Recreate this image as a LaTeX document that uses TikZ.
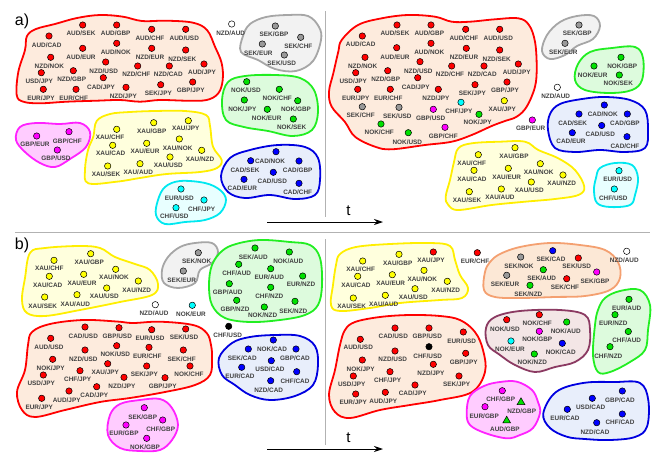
\documentclass[tikz,border=0pt]{standalone}
\usepackage{fontspec}
\setmainfont{Liberation Sans}
\usetikzlibrary{calc,arrows.meta,shapes.geometric}
\definecolor{cr}{HTML}{FF0000}
\definecolor{cg}{HTML}{00E000}
\definecolor{cgr}{HTML}{999999}
\definecolor{cm}{HTML}{FF00FF}
\definecolor{cy}{HTML}{FFFF00}
\definecolor{cb}{HTML}{0000FF}
\definecolor{cc}{HTML}{00FFFF}
\definecolor{fr}{HTML}{FDEBDD}
\definecolor{fgr}{HTML}{F2F2F2}
\definecolor{fg}{HTML}{DDFBDD}
\definecolor{fm}{HTML}{FFCCFF}
\definecolor{fy}{HTML}{FFFFDD}
\definecolor{fb}{HTML}{E8EEFB}
\definecolor{fc}{HTML}{E8FFFF}
\definecolor{fo}{HTML}{FCE8D6}
\definecolor{fp}{HTML}{F3E6E6}
\definecolor{lr}{HTML}{FF0000}
\definecolor{lgr}{HTML}{A6A6A6}
\definecolor{lg}{HTML}{22EE22}
\definecolor{lm}{HTML}{FF22FF}
\definecolor{ly}{HTML}{FFEE00}
\definecolor{lb}{HTML}{0000E0}
\definecolor{lc}{HTML}{00E8F0}
\definecolor{lo}{HTML}{F4A070}
\definecolor{lp}{HTML}{8B3A62}
\definecolor{txt}{HTML}{404040}
\tikzset{
  pt/.style={circle,draw=black,line width=0.5pt,minimum size=6.4pt,inner sep=0pt},
  tri/.style={regular polygon,regular polygon sides=3,draw=black,line width=0.5pt,fill=cg,minimum size=9pt,inner sep=0pt},
  lab/.style={font=\fontsize{6.4}{7}\selectfont\bfseries,text=txt,inner sep=0pt,text height=4.6pt,text depth=0pt},
  blob/.style args={#1/#2}{draw=#1,fill=#2,line width=1.8pt,line join=round},
  sep/.style={draw=black!30,line width=0.9pt},
  tarrow/.style={-{Stealth[length=9pt,width=6pt]},line width=0.9pt},
  big/.style={font=\fontsize{16}{18}\selectfont,inner sep=0pt}
}
\newcommand\pr[7]{\node[pt,fill=#4] (#1) at (#2,#3) {}; \node[lab] (#1t) at (#6,#7) {#5};}
\newcommand\trp[6]{\node[tri] (#1) at (#2,#3) {}; \node[lab] (#1t) at (#5,#6) {#4};}
\begin{document}
\begin{tikzpicture}[x=1pt,y=-1pt]
\useasboundingbox (0,0) rectangle (654,453);
% separators
\coordinate (h1) at (15,232.5); \coordinate (h2) at (650,232.5);
\draw[sep] (h1) -- (h2);
\coordinate (v1) at (325,11); \coordinate (v2) at (325,217);
\coordinate (v3) at (325,239); \coordinate (v4) at (325,445);
\draw[sep] (v1) -- (v2); \draw[sep] (v3) -- (v4);
\node[big] (la) at (22,21) {a)};
\node[big] (lbb) at (22,245) {b)};
% time arrows
\coordinate (ta1) at (267,222); \coordinate (ta2) at (383,222);
\draw[tarrow] (ta1) -- (ta2);
\node[font=\fontsize{15}{17}\selectfont,inner sep=0pt] (tt1) at (348.5,211) {t};
\coordinate (tb1) at (267,449); \coordinate (tb2) at (383,449);
\draw[tarrow] (tb1) -- (tb2);
\node[font=\fontsize{15}{17}\selectfont,inner sep=0pt] (tt2) at (348.5,438) {t};

%%%%%%%%%%%%%%%% BLOBS a) left
\draw[blob=lr/fr] plot[smooth cycle,tension=0.6] coordinates {(16.7,95) (18.3,72) (25,50) (27,36) (36,29) (55,24) (77,18) (100,15) (123,16.7) (142,21) (167,20.7) (193,22.7) (207,30) (215,46.7) (221.7,63.3) (222.7,80) (218.3,93.3) (206.7,100) (186.7,100.7) (160,100) (140,101.7) (120,100) (96.7,100.7) (66.7,101.7) (40,103.3) (23.3,101.7)};
\draw[blob=lgr/fgr] plot[smooth cycle,tension=0.6] coordinates {(250,24) (266,17) (288,15) (308,16) (319,27) (321,40) (313,61) (296,71) (275,69) (258,60) (241,52) (243,36)};
\draw[blob=lg/fg] plot[smooth cycle,tension=0.6] coordinates {(228,82) (245,76) (275,75) (300,78) (314,90) (318,112) (312,130) (293,136) (268,131) (244,127) (226,120) (222,100)};
\draw[blob=lm/fm] plot[smooth cycle,tension=0.6] coordinates {(20,127) (36,123) (60,124) (80,123) (90,132) (86,147) (70,159) (55,167) (40,163) (25,152) (16,140)};
\draw[blob=ly/fy] plot[smooth cycle,tension=0.6] coordinates {(93.3,136.7) (96.7,121) (110,114) (130,112) (155,111) (185,111) (206,115) (210,126) (213,146.7) (221.7,160) (217,168) (200,172) (166.7,174) (140,178) (116.7,181.7) (88.3,183.3) (85,170) (88,150)};
\draw[blob=lb/fb] plot[smooth cycle,tension=0.6] coordinates {(230,158) (250,150) (278,145) (305,147) (318,158) (320,180) (315,195) (295,199) (270,195) (245,198) (228,192) (221,176)};
\draw[blob=lc/fc] plot[smooth cycle,tension=0.6] coordinates {(165,187) (180,181) (205,183) (220,190) (226,200) (220,213) (205,220) (185,222) (165,224) (156,215) (158,200)};
%%%%%%%%%%%%%%%% BLOBS a) right
\draw[blob=lr/fr] plot[smooth cycle,tension=0.6] coordinates {(341.7,40) (358,25) (381.7,18.3) (408.3,15) (435,16.7) (451.7,21.7) (470,21.7) (495,19.3) (518.3,18.3) (529,25) (535,41.7) (536.7,66.7) (535,86.7) (526.7,106.7) (516.7,116.7) (505,121) (491.7,126) (471.7,135) (451.7,141.7) (425,145) (391.7,149.3) (375,146.7) (355,136.7) (345,122) (331.7,106.7) (329,91.7) (333.3,73.3) (338.3,51.7)};
\draw[blob=lgr/fgr] plot[smooth cycle,tension=0.6] coordinates {(560,22) (577,16) (594,16) (600,26) (593,39) (577,46) (565,55) (550,59) (542,51) (547,35)};
\draw[blob=lg/fg] plot[smooth cycle,tension=0.6] coordinates {(590,52) (612,48) (635,47) (643,58) (642,80) (632,90) (610,93) (585,90) (575,80) (578,64)};
\draw[blob=lb/fb] plot[smooth cycle,tension=0.6] coordinates {(560,104) (582,99) (605,97) (630,100) (645,110) (648,130) (645,148) (625,152) (600,150) (575,152) (555,148) (548,130) (550,114)};
\draw[blob=ly/fy] plot[smooth cycle,tension=0.6] coordinates {(458.3,148.3) (471.7,143.3) (500,141.7) (525,141.7) (538.3,150) (558.3,158.3) (575,170) (584.3,186.7) (578.3,195) (555,199) (525,201.7) (491.7,205) (458.3,210) (448.3,205) (445.7,196.7) (450,180) (454,162)};
\draw[blob=lc/fc] plot[smooth cycle,tension=0.6] coordinates {(600,168) (615,163) (632,165) (638,178) (635,195) (630,205) (610,207) (597,203) (594,190) (596,178)};
%%%%%%%%%%%%%%%% BLOBS b) left
\draw[blob=ly/fy] plot[smooth cycle,tension=0.6] coordinates {(30,253) (45,248) (80,246) (100,248) (115,257) (135,264) (150,270) (158,284) (152,295) (120,302) (80,310) (45,316) (27,313) (22,300) (25,278)};
\draw[blob=lgr/fgr] plot[smooth cycle,tension=0.6] coordinates {(180,247) (195,243) (212,243) (218,252) (212,263) (200,270) (195,283) (178,288) (164,283) (162,270) (168,257)};
\draw[blob=lg/fg] plot[smooth cycle,tension=0.6] coordinates {(222,251) (236,244) (260,240) (290,242) (310,245) (320,258) (322,285) (318,305) (305,315) (280,320) (250,322) (225,318) (212,305) (209,285) (212,265)};
\draw[blob=lr/fr] plot[smooth cycle,tension=0.6] coordinates {(50,324) (83,320) (116.7,321.5) (133,323) (160,321.7) (193,325) (206.7,333) (211,345) (212,358) (210,375) (195,385) (165,392) (130,398) (100,402) (65,410) (35,417) (22,410) (17,392) (25,370) (28,345) (32,332)};
\draw[blob=lb/fb] plot[smooth cycle,tension=0.6] coordinates {(232,343) (250,337) (275,335) (300,336) (315,346) (318,365) (313,385) (295,396) (270,400) (250,395) (235,385) (222,375) (219,358)};
\draw[blob=lm/fm] plot[smooth cycle,tension=0.6] coordinates {(120,404) (140,400) (160,399) (172,408) (178,425) (172,440) (160,450) (140,451) (120,448) (108,435) (110,415)};
%%%%%%%%%%%%%%%% BLOBS b) right
\draw[blob=ly/fy] plot[smooth cycle,tension=0.6] coordinates {(340,254) (356,247) (390,244) (430,243) (450,246) (455,260) (460,275) (468,288) (462,298) (440,300) (400,303) (370,308) (340,311) (331,305) (333,285) (336,265)};
\draw[blob=lo/fo] plot[smooth cycle,tension=0.6] coordinates {(500,254) (520,247) (550,243) (580,245) (605,250) (618,262) (620,278) (610,290) (585,296) (555,297) (520,298) (495,297) (484,290) (485,272) (490,262)};
\draw[blob=lp/fp] plot[smooth cycle,tension=0.6] coordinates {(495,317) (520,311) (560,310) (585,315) (590,330) (588,350) (575,362) (555,367) (535,372) (515,365) (500,355) (488,345) (486,328)};
\draw[blob=lg/fg] plot[smooth cycle,tension=0.6] coordinates {(605,298) (620,291) (640,290) (650,305) (648,330) (645,350) (630,362) (610,372) (598,372) (593,355) (595,325) (598,310)};
\draw[blob=lr/fr] plot[smooth cycle,tension=0.6] coordinates {(355,322) (380,317) (410,315) (440,316) (460,320) (475,332) (483,350) (485,372) (472,392) (440,400) (410,405) (380,410) (350,418) (335,412) (329,395) (335,370) (340,345) (345,330)};
\draw[blob=lm/fm] plot[smooth cycle,tension=0.6] coordinates {(484,386) (500,382) (517,381.7) (532,390) (538,402) (540,413) (533,428) (520,435) (506.7,438.3) (485,433) (470,425) (466.7,413.3) (470,396)};
\draw[blob=lb/fb] plot[smooth cycle,tension=0.6] coordinates {(556,392) (583,383) (615,382) (640,383) (648.3,400) (647,426.7) (635,437) (610,440) (585,439) (566.7,436.7) (550,428) (543.3,413.3)};

%%%%%%%%%%%%%%%% POINTS a) left
\pr{a1}{82.7}{25}{cr}{AUD/SEK}{81}{33.3}
\pr{a2}{116.7}{25}{cr}{AUD/GBP}{115.7}{33.3}
\pr{a3}{151.7}{29.3}{cr}{AUD/CHF}{150}{38.3}
\pr{a4}{185.7}{29.3}{cr}{AUD/USD}{184.3}{38.3}
\pr{a5}{49}{36}{cr}{AUD/CAD}{46.7}{45}
\pr{a6}{82.7}{48.3}{cr}{AUD/EUR}{81}{56.7}
\pr{a7}{116.7}{43.3}{cr}{AUD/NOK}{115.7}{51.7}
\pr{a8}{151.7}{48.3}{cr}{NZD/EUR}{150}{56.7}
\pr{a9}{185.7}{50}{cr}{NZD/SEK}{182.3}{59}
\pr{a10}{50.7}{57.3}{cr}{NZD/NOK}{49.3}{65.7}
\pr{a11}{105.7}{62}{cr}{NZD/USD}{103.7}{70.7}
\pr{a12}{137.7}{66}{cr}{NZD/CHF}{136.3}{74}
\pr{a13}{169.3}{66}{cr}{NZD/CAD}{168.3}{74}
\pr{a14}{204}{64}{cr}{AUD/JPY}{202}{72.3}
\pr{a15}{41.3}{72.7}{cr}{USD/JPY}{39.3}{80.7}
\pr{a16}{73.3}{70.7}{cr}{NZD/GBP}{71.7}{79.3}
\pr{a17}{103.3}{77.7}{cr}{CAD/JPY}{101}{86.7}
\pr{a18}{126}{87.3}{cr}{NZD/JPY}{123.3}{95.7}
\pr{a19}{160.7}{84.7}{cr}{SEK/JPY}{158.3}{93.3}
\pr{a20}{192.7}{82}{cr}{GBP/JPY}{190.7}{90}
\pr{a21}{43.3}{89.3}{cr}{EUR/JPY}{41}{97.7}
\pr{a22}{76}{89.3}{cr}{EUR/CHF}{73.7}{97.7}
\pr{a23}{231.7}{24}{white}{NZD/AUD}{230.7}{32.7}
\pr{a24}{275.3}{26}{cgr}{SEK/GBP}{274}{34}
\pr{a25}{300.7}{37.3}{cgr}{SEK/CHF}{298.3}{45.7}
\pr{a26}{262.3}{44}{cgr}{SEK/EUR}{258.3}{52.7}
\pr{a27}{284.3}{55}{cgr}{SEK/USD}{281.7}{63.3}
\pr{a28}{246.7}{81.7}{cg}{NOK/USD}{246}{90}
\pr{a29}{279.3}{89.3}{cg}{NOK/CHF}{277.3}{97.7}
\pr{a30}{297.7}{100.7}{cg}{NOK/GBP}{296}{109.3}
\pr{a31}{244.3}{100}{cg}{NOK/JPY}{242.3}{109.3}
\pr{a32}{267.3}{109.3}{cg}{NOK/EUR}{266.7}{118.3}
\pr{a33}{293.3}{119}{cg}{NOK/SEK}{291.7}{127.3}
\pr{a34}{36.7}{136}{cm}{GBP/EUR}{35}{144.3}
\pr{a35}{69}{131.7}{cm}{GBP/CHF}{67.3}{140.7}
\pr{a36}{57.3}{150}{cm}{GBP/USD}{56}{158.3}
\pr{a37}{116.7}{129.3}{cy}{XAU/CHF}{110}{137.3}
\pr{a38}{153.7}{122.7}{cy}{XAU/GBP}{151.7}{130.7}
\pr{a39}{188.3}{120.7}{cy}{XAU/JPY}{185.7}{128.3}
\pr{a40}{112.7}{145.3}{cy}{XAU/CAD}{110.7}{153.3}
\pr{a41}{146.7}{143.3}{cy}{XAU/EUR}{145}{151.3}
\pr{a42}{179.3}{139}{cy}{XAU/NOK}{177.7}{147.7}
\pr{a43}{201.7}{150.3}{cy}{XAU/NZD}{200}{158.7}
\pr{a44}{170}{157}{cy}{XAU/USD}{168.3}{165}
\pr{a45}{107.7}{166}{cy}{XAU/SEK}{106}{174.3}
\pr{a46}{140}{163.7}{cy}{XAU/AUD}{138.3}{172}
\pr{a47}{276}{151.7}{cb}{CAD/NOK}{270}{160.7}
\pr{a48}{250.7}{160.7}{cb}{CAD/SEK}{245}{170}
\pr{a49}{299}{161}{cb}{CAD/GBP}{297.7}{170}
\pr{a50}{273.3}{172.3}{cb}{CAD/USD}{272.3}{180.7}
\pr{a51}{244}{179.3}{cb}{CAD/EUR}{242.3}{187.7}
\pr{a52}{299}{183.3}{cb}{CAD/CHF}{297.7}{192}
\pr{a53}{181}{189}{cc}{EUR/USD}{179.3}{197.7}
\pr{a54}{204}{200}{cc}{CHF/JPY}{201.7}{208.7}
\pr{a55}{176}{207.7}{cc}{CHF/USD}{174.3}{216}

%%%%%%%%%%%%%%%% POINTS a) right
\pr{b1}{397}{25}{cr}{AUD/SEK}{395}{33.3}
\pr{b2}{431}{25}{cr}{AUD/GBP}{429.3}{33.3}
\pr{b3}{465.7}{29.3}{cr}{AUD/CHF}{464}{38.3}
\pr{b4}{499.7}{29.3}{cr}{AUD/USD}{498.3}{38.3}
\pr{b5}{362.3}{36}{cr}{AUD/CAD}{360.7}{44.3}
\pr{b6}{396.7}{47.7}{cr}{AUD/EUR}{395}{56.7}
\pr{b7}{431}{43.3}{cr}{AUD/NOK}{429.3}{51.7}
\pr{b8}{466.3}{48.3}{cr}{NZD/EUR}{464}{56.7}
\pr{b9}{499.7}{50}{cr}{NZD/SEK}{496.7}{59}
\pr{b10}{365}{57.3}{cr}{NZD/NOK}{362.7}{65.7}
\pr{b11}{420}{61.7}{cr}{NZD/USD}{418.3}{70.7}
\pr{b12}{451.7}{66}{cr}{NZD/CHF}{450}{74}
\pr{b13}{484}{66}{cr}{NZD/CAD}{482.3}{74}
\pr{b14}{518.3}{64}{cr}{AUD/JPY}{516.7}{72.3}
\pr{b15}{355.7}{72.7}{cr}{USD/JPY}{353.3}{80.7}
\pr{b16}{387.7}{70.7}{cr}{NZD/GBP}{385.7}{79.3}
\pr{b17}{417.7}{77.7}{cr}{CAD/JPY}{415.7}{86.7}
\pr{b18}{438.3}{89.3}{cr}{NZD/JPY}{436}{97.7}
\pr{b19}{475}{84.7}{cr}{SEK/JPY}{472.3}{93.3}
\pr{b20}{507}{82}{cr}{GBP/JPY}{505}{90}
\pr{b21}{357.7}{89.3}{cr}{EUR/JPY}{355.7}{97.7}
\pr{b22}{390.3}{89.3}{cr}{EUR/CHF}{388.3}{97.7}
\pr{b23}{362.3}{106.7}{cgr}{SEK/CHF}{360.7}{115}
\pr{b24}{399}{107.3}{cgr}{SEK/USD}{397.3}{115.7}
\pr{b25}{433.3}{109.3}{cm}{GBP/USD}{430.7}{118.3}
\pr{b26}{461}{102.3}{cc}{CHF/JPY}{459}{110.7}
\pr{b27}{504.3}{100.7}{cy}{XAU/JPY}{502.3}{109}
\pr{b28}{479}{114.3}{cg}{NOK/JPY}{477.7}{121.7}
\pr{b29}{381}{124}{cg}{NOK/CHF}{379.3}{132.3}
\pr{b30}{408.3}{132.7}{cg}{NOK/USD}{407.3}{141.7}
\pr{b31}{445}{127.3}{cm}{GBP/CHF}{443.3}{135.7}
\pr{b32}{579}{25}{cgr}{SEK/GBP}{577.3}{33.3}
\pr{b33}{565}{43.3}{cgr}{SEK/EUR}{563.3}{52.3}
\pr{b34}{621}{57.3}{cg}{NOK/GBP}{622.3}{66}
\pr{b35}{594}{66}{cg}{NOK/EUR}{592.7}{74.7}
\pr{b36}{619.3}{75}{cg}{NOK/SEK}{618.3}{83.3}
\pr{b37}{557.3}{87.3}{white}{NZD/AUD}{555.7}{95.7}
\pr{b38}{532.3}{120}{cm}{GBP/EUR}{530.7}{127.7}
\pr{b39}{604.3}{105}{cb}{CAD/NOK}{602.7}{114}
\pr{b40}{579}{114}{cb}{CAD/SEK}{572.7}{122.7}
\pr{b41}{627.3}{114}{cb}{CAD/GBP}{625}{122.7}
\pr{b42}{601.7}{125.5}{cb}{CAD/USD}{600.3}{134}
\pr{b43}{572.3}{132.7}{cb}{CAD/EUR}{571}{140.7}
\pr{b44}{627}{136.7}{cb}{CAD/CHF}{625}{145.7}
\pr{b45}{478.3}{154.7}{cy}{XAU/CHF}{471.7}{162.7}
\pr{b46}{515}{147.7}{cy}{XAU/GBP}{514}{156}
\pr{b47}{474}{170.3}{cy}{XAU/CAD}{472}{178.7}
\pr{b48}{508.3}{168.3}{cy}{XAU/EUR}{506.7}{176.7}
\pr{b49}{540.3}{163.7}{cy}{XAU/NOK}{538.7}{172.3}
\pr{b50}{563}{175}{cy}{XAU/NZD}{561.7}{183.3}
\pr{b51}{531.3}{182}{cy}{XAU/USD}{529.3}{190.3}
\pr{b52}{469.3}{191.7}{cy}{XAU/SEK}{467}{200.3}
\pr{b53}{501.3}{189}{cy}{XAU/AUD}{500}{197.3}
\pr{b54}{619}{170.7}{cc}{EUR/USD}{617.7}{179.3}
\pr{b55}{614.3}{189}{cc}{CHF/USD}{613.3}{197.7}

%%%%%%%%%%%%%%%% POINTS b) left
\pr{c1}{54}{260.3}{cy}{XAU/CHF}{49.3}{268}
\pr{c2}{90.7}{253.7}{cy}{XAU/GBP}{89.3}{262}
\pr{c3}{49.3}{276.3}{cy}{XAU/CAD}{47.7}{284.7}
\pr{c4}{83.7}{274.3}{cy}{XAU/EUR}{82}{282.7}
\pr{c5}{115.7}{269.3}{cy}{XAU/NOK}{114}{277.3}
\pr{c6}{138.3}{281}{cy}{XAU/NZD}{136.7}{289.7}
\pr{c7}{106.7}{288}{cy}{XAU/USD}{104.3}{296.3}
\pr{c8}{44.7}{297}{cy}{XAU/SEK}{42.7}{306}
\pr{c9}{77}{294.7}{cy}{XAU/AUD}{75.3}{303.7}
\pr{c10}{198.3}{252.7}{cgr}{SEK/NOK}{196.7}{261}
\pr{c11}{183.3}{271}{cgr}{SEK/EUR}{181.7}{279.7}
\pr{c12}{155.3}{304.7}{white}{NZD/AUD}{154}{313.3}
\pr{c13}{192.3}{305.3}{cc}{NOK/EUR}{191}{314}
\pr{c14}{228.7}{326.3}{black}{CHF/USD}{227.7}{335.3}
\pr{c15}{255}{248}{cg}{SEK/AUD}{253.3}{257}
\pr{c16}{289.3}{252}{cg}{NOK/AUD}{288.3}{260.7}
\pr{c17}{238.7}{264.3}{cg}{CHF/AUD}{236.7}{272.7}
\pr{c18}{270.7}{268.7}{cg}{EUR/AUD}{269.3}{277}
\pr{c19}{302.7}{276}{cg}{EUR/NZD}{301}{284.3}
\pr{c20}{229.3}{283.7}{cg}{GBP/AUD}{227.7}{292}
\pr{c21}{270.7}{287.3}{cg}{CHF/NZD}{269.3}{296.3}
\pr{c22}{236.7}{300.3}{cg}{GBP/NZD}{235}{308.7}
\pr{c23}{264.3}{307}{cg}{NOK/NZD}{262.7}{315.3}
\pr{c24}{295}{301.3}{cg}{SEK/NZD}{293.3}{311}
\pr{c25}{85}{327}{cr}{CAD/USD}{83.3}{336}
\pr{c26}{119}{327.7}{cr}{GBP/USD}{117.3}{336}
\pr{c27}{151.7}{329.7}{cr}{EUR/USD}{150}{338}
\pr{c28}{185.7}{329}{cr}{SEK/USD}{184}{337.3}
\pr{c29}{50.7}{338.3}{cr}{AUD/USD}{49}{346.7}
\pr{c30}{85}{350}{cr}{NZD/USD}{83.3}{358.7}
\pr{c31}{116.7}{345.7}{cr}{NOK/USD}{115.3}{354}
\pr{c32}{149}{347.3}{cr}{EUR/CHF}{147.3}{355.7}
\pr{c33}{183.3}{350}{cr}{SEK/CHF}{181.7}{358.7}
\pr{c34}{52.7}{359.3}{cr}{NOK/JPY}{50.7}{367.7}
\pr{c35}{107.7}{363.7}{cr}{XAU/JPY}{105.3}{372.3}
\pr{c36}{146.7}{366}{cr}{SEK/JPY}{144.3}{374.3}
\pr{c37}{190}{366}{cr}{NOK/CHF}{189}{374.3}
\pr{c38}{43.3}{375}{cr}{USD/JPY}{41.3}{383.3}
\pr{c39}{80}{370.7}{cr}{CHF/JPY}{77.7}{379}
\pr{c40}{124}{377.3}{cr}{NZD/JPY}{122}{385.7}
\pr{c41}{165}{377.7}{cr}{GBP/JPY}{162.7}{385.7}
\pr{c42}{96.7}{386.7}{cr}{CAD/JPY}{94.3}{395}
\pr{c43}{69}{391}{cr}{AUD/JPY}{66.7}{399.7}
\pr{c44}{41.7}{398.3}{cr}{EUR/JPY}{39.3}{406.7}
\pr{c45}{273.3}{340}{cb}{NOK/CAD}{272}{349}
\pr{c46}{248.3}{349}{cb}{SEK/CAD}{242.3}{357.7}
\pr{c47}{296}{349}{cb}{GBP/CAD}{295}{357.7}
\pr{c48}{271.3}{360.7}{cb}{USD/CAD}{270}{369}
\pr{c49}{241.7}{367.3}{cb}{EUR/CAD}{240}{375.7}
\pr{c50}{296.7}{371.7}{cb}{CHF/CAD}{295}{380.7}
\pr{c51}{270.7}{380.7}{cb}{NZD/CAD}{268.7}{390}
\pr{c52}{144.3}{407.7}{cm}{SEK/GBP}{142.7}{416.7}
\pr{c53}{162.7}{420}{cm}{CHF/GBP}{160.7}{428.7}
\pr{c54}{126}{425}{cm}{EUR/GBP}{124}{433.3}
\pr{c55}{146.7}{438.3}{cm}{NOK/GBP}{145}{447.3}

%%%%%%%%%%%%%%%% POINTS b) right
\pr{d1}{362.7}{261}{cy}{XAU/CHF}{360.7}{269.3}
\pr{d2}{399}{254.3}{cy}{XAU/GBP}{397.7}{262.7}
\pr{d3}{433.3}{252}{cr}{XAU/JPY}{431}{260.3}
\pr{d4}{357.7}{276.3}{cy}{XAU/CAD}{356}{285.3}
\pr{d5}{392.3}{274.7}{cy}{XAU/EUR}{390.7}{283}
\pr{d6}{424}{270.3}{cy}{XAU/NOK}{422.3}{278.7}
\pr{d7}{447.3}{281.3}{cy}{XAU/NZD}{445.7}{290.3}
\pr{d8}{415}{288.7}{cy}{XAU/USD}{413.3}{297}
\pr{d9}{353.3}{298}{cy}{XAU/SEK}{351.7}{306}
\pr{d10}{385.3}{295.3}{cy}{XAU/AUD}{383.7}{304}
\pr{d11}{477.3}{252.7}{cr}{EUR/CHF}{475}{260.7}
\pr{d12}{626.7}{251.3}{white}{NZD/AUD}{624.3}{260}
\pr{d13}{520.7}{257}{cgr}{SEK/NOK}{519}{266}
\pr{d14}{552.7}{250.7}{cb}{SEK/CAD}{551}{259.3}
\pr{d15}{578.3}{258}{cr}{SEK/USD}{576.7}{266.3}
\pr{d16}{543.3}{269.7}{cg}{SEK/AUD}{541.7}{278}
\pr{d17}{596.7}{272}{cm}{SEK/GBP}{595}{280.7}
\pr{d18}{506.7}{275.3}{cgr}{SEK/EUR}{505}{284.3}
\pr{d19}{566.7}{278.7}{cr}{SEK/CHF}{565}{287.3}
\pr{d20}{530}{285.3}{cg}{SEK/NZD}{528.3}{293.7}
\pr{d21}{506.7}{319.7}{cr}{NOK/USD}{505}{328.7}
\pr{d22}{539.3}{314.7}{cr}{NOK/CHF}{537.3}{323}
\pr{d23}{566.7}{322}{cg}{NOK/AUD}{565.7}{331}
\pr{d24}{539.3}{331.3}{cm}{NOK/GBP}{537.3}{339.3}
\pr{d25}{511}{341}{cc}{NOK/EUR}{510}{349.3}
\pr{d26}{562.3}{343.3}{cb}{NOK/CAD}{560.7}{351.7}
\pr{d27}{534.3}{354}{cg}{NOK/NZD}{532.3}{362.3}
\pr{d28}{629}{299.3}{cg}{EUR/AUD}{626.7}{307.7}
\pr{d29}{615}{314.7}{cg}{EUR/NZD}{613.3}{323}
\pr{d30}{628.3}{331.5}{cg}{CHF/AUD}{626.7}{340}
\pr{d31}{610}{346.7}{cg}{CHF/NZD}{608.3}{355.7}
\pr{d32}{395}{328}{cr}{CAD/USD}{393.3}{336.3}
\pr{d33}{429}{328}{cr}{GBP/USD}{427.3}{336.3}
\pr{d34}{463.3}{332}{cr}{EUR/USD}{461.7}{340.7}
\pr{d35}{360.3}{339.3}{cr}{AUD/USD}{358.3}{347.3}
\pr{d36}{395}{351}{cr}{NZD/USD}{392.7}{359.3}
\pr{d37}{429}{346.7}{black}{CHF/USD}{427.7}{355.7}
\pr{d38}{465.7}{353.3}{cr}{GBP/JPY}{463.7}{362}
\pr{d39}{362.3}{360}{cr}{NOK/JPY}{360.7}{369}
\pr{d40}{433.3}{364.3}{cr}{NZD/JPY}{431}{372.7}
\pr{d41}{390}{371.7}{cr}{CHF/JPY}{387.7}{380}
\pr{d42}{353.3}{376}{cr}{USD/JPY}{351.7}{384.3}
\pr{d43}{459}{376}{cr}{SEK/JPY}{456.7}{384.3}
\pr{d44}{415}{385}{cr}{CAD/JPY}{412.7}{393.3}
\pr{d45}{385.3}{392.3}{cr}{AUD/JPY}{383.3}{400.7}
\pr{d46}{355.7}{394}{cr}{EUR/JPY}{353.3}{402.3}
\pr{d47}{502.3}{390.7}{cm}{CHF/GBP}{500.7}{399.3}
\trp{d48}{521}{402.3}{NZD/GBP}{521.7}{410.7}
\pr{d49}{485}{406.7}{cm}{EUR/GBP}{484.3}{415.7}
\trp{d50}{506.7}{420.7}{AUD/GBP}{505}{429}
\pr{d51}{592.3}{398.3}{cb}{USD/CAD}{590.7}{407.3}
\pr{d52}{622.3}{391}{cb}{GBP/CAD}{620}{400}
\pr{d53}{567.3}{409.3}{cb}{EUR/CAD}{565}{418.3}
\pr{d54}{622.3}{414}{cb}{CHF/CAD}{620}{422.3}
\pr{d55}{596.7}{422.7}{cb}{NZD/CAD}{595}{431.7}
\end{tikzpicture}
\end{document}
